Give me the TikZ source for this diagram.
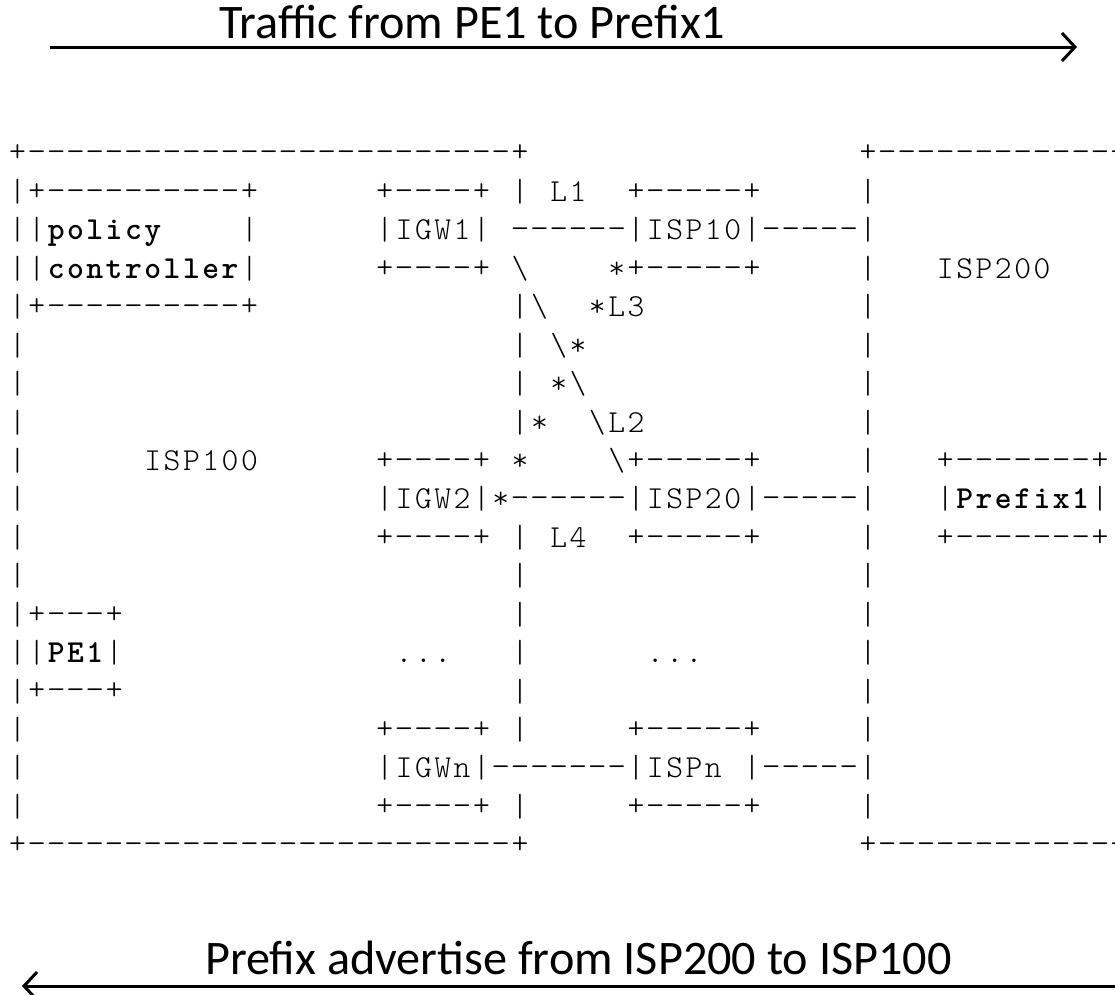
\documentclass[tikz,border=0pt]{standalone}
\usepackage{fontspec}
\usepackage{graphicx}
\setmonofont{lmmonolt10}[Extension=.otf, UprightFont=*-regular, BoldFont=*-bold]
\newfontfamily\calib{Carlito}
\usetikzlibrary{arrows.meta}
\newcommand\bs{\textbackslash}
\ExplSyntaxOn
\bool_new:N \l_asc_bold_bool
\cs_new:Npn \asc_box:n #1 { \makebox[19.33pt][c]{ \bool_if:NT \l_asc_bold_bool { \bfseries } #1 } }
\NewDocumentCommand\ascline{m}
  {
    \bool_set_false:N \l_asc_bold_bool
    \tl_map_inline:nn {#1}
      {
        \str_case:nnF {##1}
          {
            {!} { \bool_if:NTF \l_asc_bold_bool { \bool_set_false:N \l_asc_bold_bool } { \bool_set_true:N \l_asc_bold_bool } }
            {-} { \asc_box:n { \raisebox{1.2pt}{\scalebox{1.12}[1]{-}} } }
            {+} { \asc_box:n { \raisebox{1.2pt}{+} } }
          }
          { \asc_box:n {##1} }
      }
  }
\ExplSyntaxOff
\begin{document}
\begin{tikzpicture}[x=1pt,y=-1pt,
  asc/.style={anchor=base west, inner sep=0pt, font=\ttfamily\fontsize{32}{38}\selectfont},
  hdr/.style={anchor=base west, inner sep=0pt, font=\calib\fontsize{48.2}{56}\selectfont},
  flow/.style={line width=3pt, -{Straight Barb[length=13pt,width=28pt]}}]
\useasboundingbox (0,0) rectangle (1115,994);
% header
\node[hdr] (t1) at (219,38) {Traffic from PE1 to Prefix1};
\coordinate (a1s) at (50,47);
\coordinate (a1e) at (1077,47);
\draw[flow] (a1s) -- (a1e);
% ascii art
\node[asc] (r0) at (7.64,{163.1+38.43*0}) {\ascline{+ ----- ----- ----- ----- ----- + ~~~~~ ~~~~~ ~~~~~ ~~ + ----- ----- ---}};
\node[asc] (r1) at (7.64,{163.1+38.43*1}) {\ascline{| + ----- ----- + ~~~~~~ + ---- + ~ | ~ L1 ~~ + ----- + ~~~~~ |}};
\node[asc] (r2) at (7.64,{163.1+38.43*2}) {\ascline{| | !policy! ~~~~ | ~~~~~~ | IGW1 | ~ ------ | ISP10 | ----- |}};
\node[asc] (r3) at (7.64,{163.1+38.43*3}) {\ascline{| | !controller! | ~~~~~~ + ---- + ~ \bs ~~~~ * + ----- + ~~~~~ | ~~~ ISP200}};
\node[asc] (r4) at (7.64,{163.1+38.43*4}) {\ascline{| + ----- ----- + ~~~~~ ~~~~~ ~~~ | \bs ~~ * L3 ~~~~~ ~~~~~ ~ |}};
\node[asc] (r5) at (7.64,{163.1+38.43*5}) {\ascline{| ~~~~~ ~~~~~ ~~~~~ ~~~~~ ~~~~~ | ~ \bs * ~~~~~ ~~~~~ ~~~~ |}};
\node[asc] (r6) at (7.64,{163.1+38.43*6}) {\ascline{| ~~~~~ ~~~~~ ~~~~~ ~~~~~ ~~~~~ | ~ * \bs ~~~~~ ~~~~~ ~~~~ |}};
\node[asc] (r7) at (7.64,{163.1+38.43*7}) {\ascline{| ~~~~~ ~~~~~ ~~~~~ ~~~~~ ~~~~~ | * ~~ \bs L2 ~~~~~ ~~~~~ ~ |}};
\node[asc] (r8) at (7.64,{163.1+38.43*8}) {\ascline{| ~~~~~~ ISP100 ~~~~~~ + ---- + ~ * ~~~~ \bs + ----- + ~~~~~ | ~~~ + ------- +}};
\node[asc] (r9) at (7.64,{163.1+38.43*9}) {\ascline{| ~~~~~ ~~~~~ ~~~~~ ~~~ | IGW2 | * ------ | ISP20 | ----- | ~~~ | !Prefix1! |}};
\node[asc] (r10) at (7.64,{163.1+38.43*10}) {\ascline{| ~~~~~ ~~~~~ ~~~~~ ~~~ + ---- + ~ | ~ L4 ~~ + ----- + ~~~~~ | ~~~ + ------- +}};
\node[asc] (r11) at (7.64,{163.1+38.43*11}) {\ascline{| ~~~~~ ~~~~~ ~~~~~ ~~~~~ ~~~~~ | ~~~~~ ~~~~~ ~~~~~ ~~ |}};
\node[asc] (r12) at (7.64,{163.1+38.43*12}) {\ascline{| + --- + ~~~~~ ~~~~~ ~~~~~ ~~~~~ | ~~~~~ ~~~~~ ~~~~~ ~~ |}};
\node[asc] (r13) at (7.64,{163.1+38.43*13}) {\ascline{| | !PE1! | ~~~~~ ~~~~~ ~~~~ ... ~~~ | ~~~~~~ ... ~~~~~ ~~~ |}};
\node[asc] (r14) at (7.64,{163.1+38.43*14}) {\ascline{| + --- + ~~~~~ ~~~~~ ~~~~~ ~~~~~ | ~~~~~ ~~~~~ ~~~~~ ~~ |}};
\node[asc] (r15) at (7.64,{163.1+38.43*15}) {\ascline{| ~~~~~ ~~~~~ ~~~~~ ~~~ + ---- + ~ | ~~~~~ + ----- + ~~~~~ |}};
\node[asc] (r16) at (7.64,{163.1+38.43*16}) {\ascline{| ~~~~~ ~~~~~ ~~~~~ ~~~ | IGWn | ------- | ISPn ~ | ----- |}};
\node[asc] (r17) at (7.64,{163.1+38.43*17}) {\ascline{| ~~~~~ ~~~~~ ~~~~~ ~~~ + ---- + ~ | ~~~~~ + ----- + ~~~~~ |}};
\node[asc] (r18) at (7.64,{163.1+38.43*18}) {\ascline{+ ----- ----- ----- ----- ----- + ~~~~~ ~~~~~ ~~~~~ ~~ + ----- ----- ---}};
% footer
\node[hdr] (t2) at (205,974) {Prefix advertise from ISP200 to ISP100};
\coordinate (a2s) at (1125,986);
\coordinate (a2e) at (22,986);
\draw[flow] (a2s) -- (a2e);
\end{tikzpicture}
\end{document}
